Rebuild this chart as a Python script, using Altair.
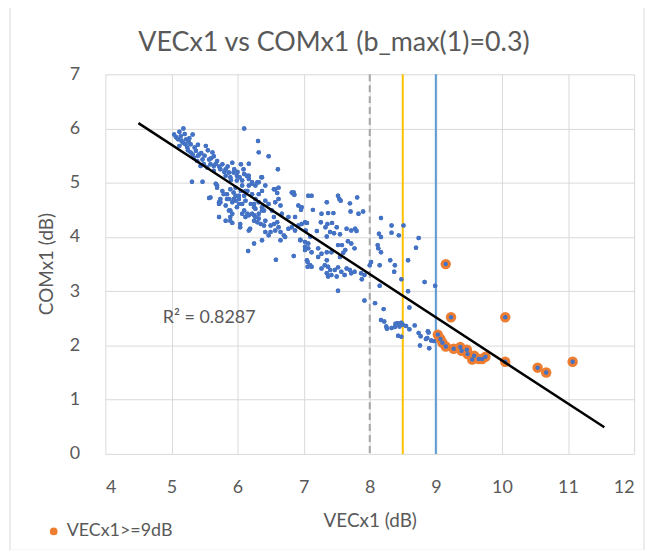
import altair as alt
import pandas as pd

# ---- data ----
blue_x = [5.04, 5.07, 5.12, 5.18, 5.14, 5.22, 5.32, 5.17, 5.21, 5.26, 5.29, 5.24, 5.37, 5.42, 5.32, 5.34, 5.52, 5.39, 5.47, 5.49,
          5.62, 5.64, 5.57, 5.59, 5.69, 5.64, 5.77, 5.74, 5.82, 5.87, 5.92, 5.94, 5.82, 5.89, 5.99, 6.05, 6.17, 6.10, 5.99, 6.07,
          6.17, 6.22, 6.32, 6.27, 6.07, 5.97, 5.94, 6.05, 6.15, 6.10, 6.02, 6.22, 6.27, 6.32, 6.37, 6.42, 5.69, 5.77, 5.84, 5.74,
          5.72, 5.87, 5.92, 5.89, 5.97, 6.02, 6.12, 6.20, 6.25, 6.10, 6.15, 6.25, 6.32, 6.37, 5.57, 5.31, 5.47, 6.10, 6.31, 6.32,
          6.47, 5.64, 5.54, 5.44, 5.29, 5.12,
          5.82, 5.92, 6.25, 6.30, 6.35, 6.42, 6.40, 6.50, 6.55, 6.60, 6.62, 6.57, 6.50, 6.47, 6.65, 6.70, 6.77, 6.82, 6.87, 6.92,
          6.97, 7.02, 6.72, 6.65, 6.17, 6.19, 6.04, 6.42, 6.37, 6.25, 6.16, 6.58, 6.85, 6.95, 7.02, 7.05, 6.97, 6.92, 6.85, 6.82,
          6.62, 6.65, 6.67, 6.77, 6.87, 6.52, 6.55, 6.57, 6.62, 6.57, 6.07, 6.17, 6.22, 6.27, 6.32,
          6.61, 6.85, 6.86, 6.96, 7.12, 7.14, 7.27, 7.35, 7.37, 7.45, 7.52, 7.54, 7.56, 7.70, 7.81, 7.71, 7.83, 7.90, 7.05, 7.03,
          7.20, 7.26, 7.36, 7.43, 7.33, 7.40, 7.46, 7.35, 7.50, 7.55, 7.65, 7.72, 7.78, 7.80, 6.95, 7.02, 7.07, 7.10, 7.02, 7.07,
          7.12, 7.22, 7.27, 7.35, 7.42, 7.52, 7.58, 7.67, 7.72, 7.77, 7.63, 7.60, 7.55, 7.22, 7.35, 7.06, 7.10, 7.12, 7.06, 7.27,
          7.32, 7.37, 7.40, 7.35, 7.37, 7.42, 7.47, 7.52, 7.57, 7.65, 7.70, 7.72, 7.77, 7.87, 7.92, 7.62, 7.50, 7.52,
          6.36, 6.55, 6.60, 7.07, 6.09, 6.14,
          8.17, 8.33, 8.33, 8.14, 8.17, 8.44, 8.51, 8.74, 8.70, 8.12, 8.13, 8.17, 8.31, 8.38, 8.02, 8.00, 8.15, 8.58, 8.37, 7.88,
          8.48, 8.83, 8.99, 8.15, 8.58, 7.92, 8.08, 8.21, 8.60, 8.17, 8.22, 8.25, 8.26, 8.33, 8.39, 8.42, 8.45, 8.48, 8.50, 8.55,
          8.60, 8.68, 8.45, 8.38, 8.43, 8.48, 8.74, 8.77, 8.89, 8.87, 8.97, 8.76, 8.90, 8.88, 8.85, 8.93,
          5.72, 5.74, 5.82, 5.87, 5.92, 5.89, 6.12, 5.67, 5.69, 5.79, 5.89, 5.97, 6.02, 6.12, 6.17, 6.22, 6.30, 6.37, 6.17, 6.25,
          6.32, 6.42, 6.47, 6.37, 6.40, 6.27, 6.07, 5.99, 5.94, 5.84, 5.59, 5.72, 5.89, 6.04,
          5.10, 5.20, 5.27, 5.35, 5.40, 5.45, 5.50, 5.55, 5.60, 5.67, 5.72, 5.80, 5.85, 5.95, 6.00, 5.90, 6.03, 5.15, 5.25, 5.40]
blue_y = [5.89, 5.84, 5.94, 6.00, 5.86, 5.80, 5.89, 5.74, 5.71, 5.76, 5.71, 5.65, 5.59, 5.52, 5.52, 5.46, 5.68, 5.40, 5.43, 5.34,
          5.56, 5.49, 5.43, 5.34, 5.40, 5.31, 5.34, 5.25, 5.25, 5.19, 5.37, 5.19, 5.13, 5.10, 5.13, 5.34, 5.35, 5.16, 5.04, 5.04,
          5.07, 5.01, 5.01, 4.95, 4.95, 4.91, 4.82, 4.85, 4.85, 4.76, 4.76, 4.79, 4.70, 4.79, 4.85, 4.95, 4.95, 4.85, 4.79, 4.70,
          4.64, 4.70, 4.64, 4.49, 4.67, 4.61, 4.67, 4.61, 4.55, 4.49, 4.43, 4.40, 4.43, 4.49, 4.72, 5.02, 5.02, 6.00, 5.77, 5.56,
          5.49, 5.22, 5.28, 5.31, 5.56, 5.68,
          4.30, 4.26, 4.30, 4.27, 4.24, 4.30, 4.21, 4.21, 4.24, 4.27, 4.18, 4.12, 4.09, 4.03, 4.09, 4.03, 4.15, 4.18, 4.12, 4.21,
          4.24, 4.27, 4.00, 3.94, 4.12, 4.15, 4.18, 4.09, 3.94, 3.88, 3.74, 3.58, 3.65, 3.94, 3.82, 3.57, 4.55, 4.58, 4.79, 4.82,
          4.70, 4.58, 4.43, 4.37, 4.37, 4.49, 4.37, 4.88, 4.91, 4.64, 4.43, 4.40, 4.43, 4.37, 4.34,
          5.25, 4.82, 4.78, 4.50, 4.76, 4.50, 4.43, 4.64, 4.44, 4.44, 4.76, 4.70, 4.67, 4.62, 4.73, 4.47, 4.43, 4.47, 4.26, 4.12,
          4.11, 4.27, 4.24, 4.26, 4.18, 4.09, 4.07, 4.01, 4.18, 4.05, 4.15, 4.12, 4.15, 4.11, 3.95, 3.91, 3.88, 4.01, 3.76, 3.79,
          3.72, 3.79, 3.69, 3.72, 3.72, 3.85, 3.85, 3.92, 3.88, 3.79, 3.76, 3.71, 3.63, 3.63, 3.57, 3.54, 3.48, 3.45, 3.45, 3.42,
          3.48, 3.45, 3.39, 3.33, 3.27, 3.30, 3.39, 3.44, 3.36, 3.42, 3.39, 3.33, 3.36, 3.33, 3.30, 3.30, 3.27, 3.01,
          5.10, 4.88, 4.81, 4.76, 5.25, 5.13,
          4.35, 4.21, 4.08, 4.06, 4.00, 4.03, 4.21, 3.98, 3.80, 3.85, 3.79, 3.72, 3.57, 3.48, 3.54, 3.48, 3.48, 3.57, 3.36, 3.22,
          3.22, 3.17, 3.10, 3.10, 3.00, 2.83, 2.78, 2.67, 2.70, 2.47, 2.44, 2.35, 2.31, 2.32, 2.40, 2.41, 2.40, 2.42, 2.38, 2.36,
          2.30, 2.37, 2.35, 2.34, 2.18, 2.16, 2.23, 2.17, 2.24, 2.14, 2.08, 2.00, 1.95, 2.26, 2.12, 2.09,
          4.61, 4.64, 4.58, 4.49, 4.43, 4.37, 4.37, 4.98, 4.91, 4.79, 4.88, 4.76, 4.70, 4.85, 4.95, 4.98, 5.01, 5.10, 5.13, 4.61,
          4.64, 4.67, 4.61, 4.55, 4.49, 4.52, 4.61, 4.55, 4.70, 4.70, 4.73, 4.37, 4.30, 4.24,
          5.80, 5.90, 5.82, 5.65, 5.70, 5.55, 5.50, 5.60, 5.45, 5.35, 5.30, 5.20, 5.30, 5.25, 5.20, 5.05, 5.10, 5.78, 5.60, 5.50]

orange_x = [9.15, 9.23, 10.05, 9.03, 9.07, 9.10, 9.15, 9.27, 9.37, 9.39, 9.47, 9.48, 9.55, 9.58, 9.65, 9.70, 9.75,
            10.05, 10.54, 10.67, 11.07]
orange_y = [3.50, 2.52, 2.52, 2.20, 2.12, 2.05, 1.98, 1.94, 1.97, 1.90, 1.92, 1.84, 1.74, 1.81, 1.75, 1.75, 1.79,
            1.70, 1.59, 1.50, 1.70]
orange_label = "VECx1>=9dB"

trend_x = [4.5, 11.55]
trend_y = [6.10, 0.49]

r2_text = ["R\u00b2 = 0.8287"]
r2_x = [5.57]
r2_y = [2.51]

x_ticks = [4, 5, 6, 7, 8, 9, 10, 11, 12]
y_ticks = [0, 1, 2, 3, 4, 5, 6, 7]

title_text = ["VECx1 vs COMx1 (b_max(1)=0.3)"]
x_title = "VECx1 (dB)"
y_title = ["COMx1 (dB)"]

# ---- tables ----
all_df = pd.DataFrame({"x": blue_x + orange_x, "y": blue_y + orange_y})
or_df = pd.DataFrame({"x": orange_x, "y": orange_y, "s": [orange_label] * len(orange_x)})
trend_df = pd.DataFrame({"x": trend_x, "y": trend_y})
r2_df = pd.DataFrame({"x": r2_x, "y": r2_y, "t": r2_text})
title_df = pd.DataFrame({"t": title_text})
ytitle_df = pd.DataFrame({"t": y_title})

FONT = "Lato"
TXT = "#595959"
W, H = 532, 382

xs = alt.Scale(domain=[4, 12], nice=False, zero=False)
ys = alt.Scale(domain=[0, 7], nice=False, zero=False)

xax = alt.Axis(values=x_ticks, format="d", grid=True, gridColor="#d9d9d9", domain=False, ticks=False,
               labelFont=FONT, labelFontSize=18, labelColor=TXT, labelPadding=25,
               title=x_title, titleFont=FONT, titleFontSize=19, titleColor=TXT,
               titleFontWeight="normal", titlePadding=15)
yax = alt.Axis(values=y_ticks, format="d", grid=True, gridColor="#d9d9d9", domain=False, ticks=False,
               labelFont=FONT, labelFontSize=18, labelColor=TXT, labelPadding=26, title=None)

border = alt.Chart(pd.DataFrame({"a": [0]})).mark_rect(
    fill=None, stroke="#d9d9d9", strokeWidth=1
).encode(x=alt.value(-96), x2=alt.value(542), y=alt.value(-72), y2=alt.value(479))

title = alt.Chart(title_df).mark_text(
    font=FONT, fontSize=27, color=TXT, align="center", baseline="middle"
).encode(x=alt.value(230), y=alt.value(-31), text="t:N")

ytitle = alt.Chart(ytitle_df).mark_text(
    font=FONT, fontSize=19, color=TXT, align="center", baseline="middle", angle=270
).encode(x=alt.value(-59), y=alt.value(191), text="t:N")

v8 = alt.Chart(pd.DataFrame({"x": [8]})).mark_rule(
    color="#a6a6a6", strokeWidth=2, strokeDash=[7, 4]).encode(x=alt.X("x:Q", scale=xs))
v85 = alt.Chart(pd.DataFrame({"x": [8.5]})).mark_rule(
    color="#ffc000", strokeWidth=2).encode(x=alt.X("x:Q", scale=xs))
v9 = alt.Chart(pd.DataFrame({"x": [9]})).mark_rule(
    color="#5b9bd5", strokeWidth=2).encode(x=alt.X("x:Q", scale=xs))

orange = alt.Chart(or_df).mark_circle(size=110, opacity=1).encode(
    x=alt.X("x:Q", scale=xs), y=alt.Y("y:Q", scale=ys),
    color=alt.Color("s:N", scale=alt.Scale(domain=[orange_label], range=["#ed7d31"]),
                    legend=alt.Legend(orient="none", legendX=-61, legendY=451, title=None,
                                      symbolType="circle", symbolSize=60,
                                      labelFont=FONT, labelFontSize=18, labelColor=TXT,
                                      symbolStrokeWidth=0)))

blue = alt.Chart(all_df).mark_circle(size=20, opacity=1, color="#4472c4").encode(
    x=alt.X("x:Q", scale=xs, axis=xax), y=alt.Y("y:Q", scale=ys, axis=yax))

trend = alt.Chart(trend_df).mark_line(color="black", strokeWidth=2.5).encode(
    x=alt.X("x:Q", scale=xs), y=alt.Y("y:Q", scale=ys))

r2 = alt.Chart(r2_df).mark_text(font=FONT, fontSize=18, color=TXT, align="center").encode(
    x=alt.X("x:Q", scale=xs), y=alt.Y("y:Q", scale=ys), text="t:N")

chart = alt.layer(border, title, ytitle, blue, v8, v85, v9, orange, blue, trend, r2).properties(
    width=W, height=H,
    autosize=alt.AutoSizeParams(type="none"),
    padding={"left": 98, "top": 65, "right": 14, "bottom": 95},
).configure_view(stroke=None)

chart.save("out.html", embed_options={"renderer": "svg", "actions": False})
